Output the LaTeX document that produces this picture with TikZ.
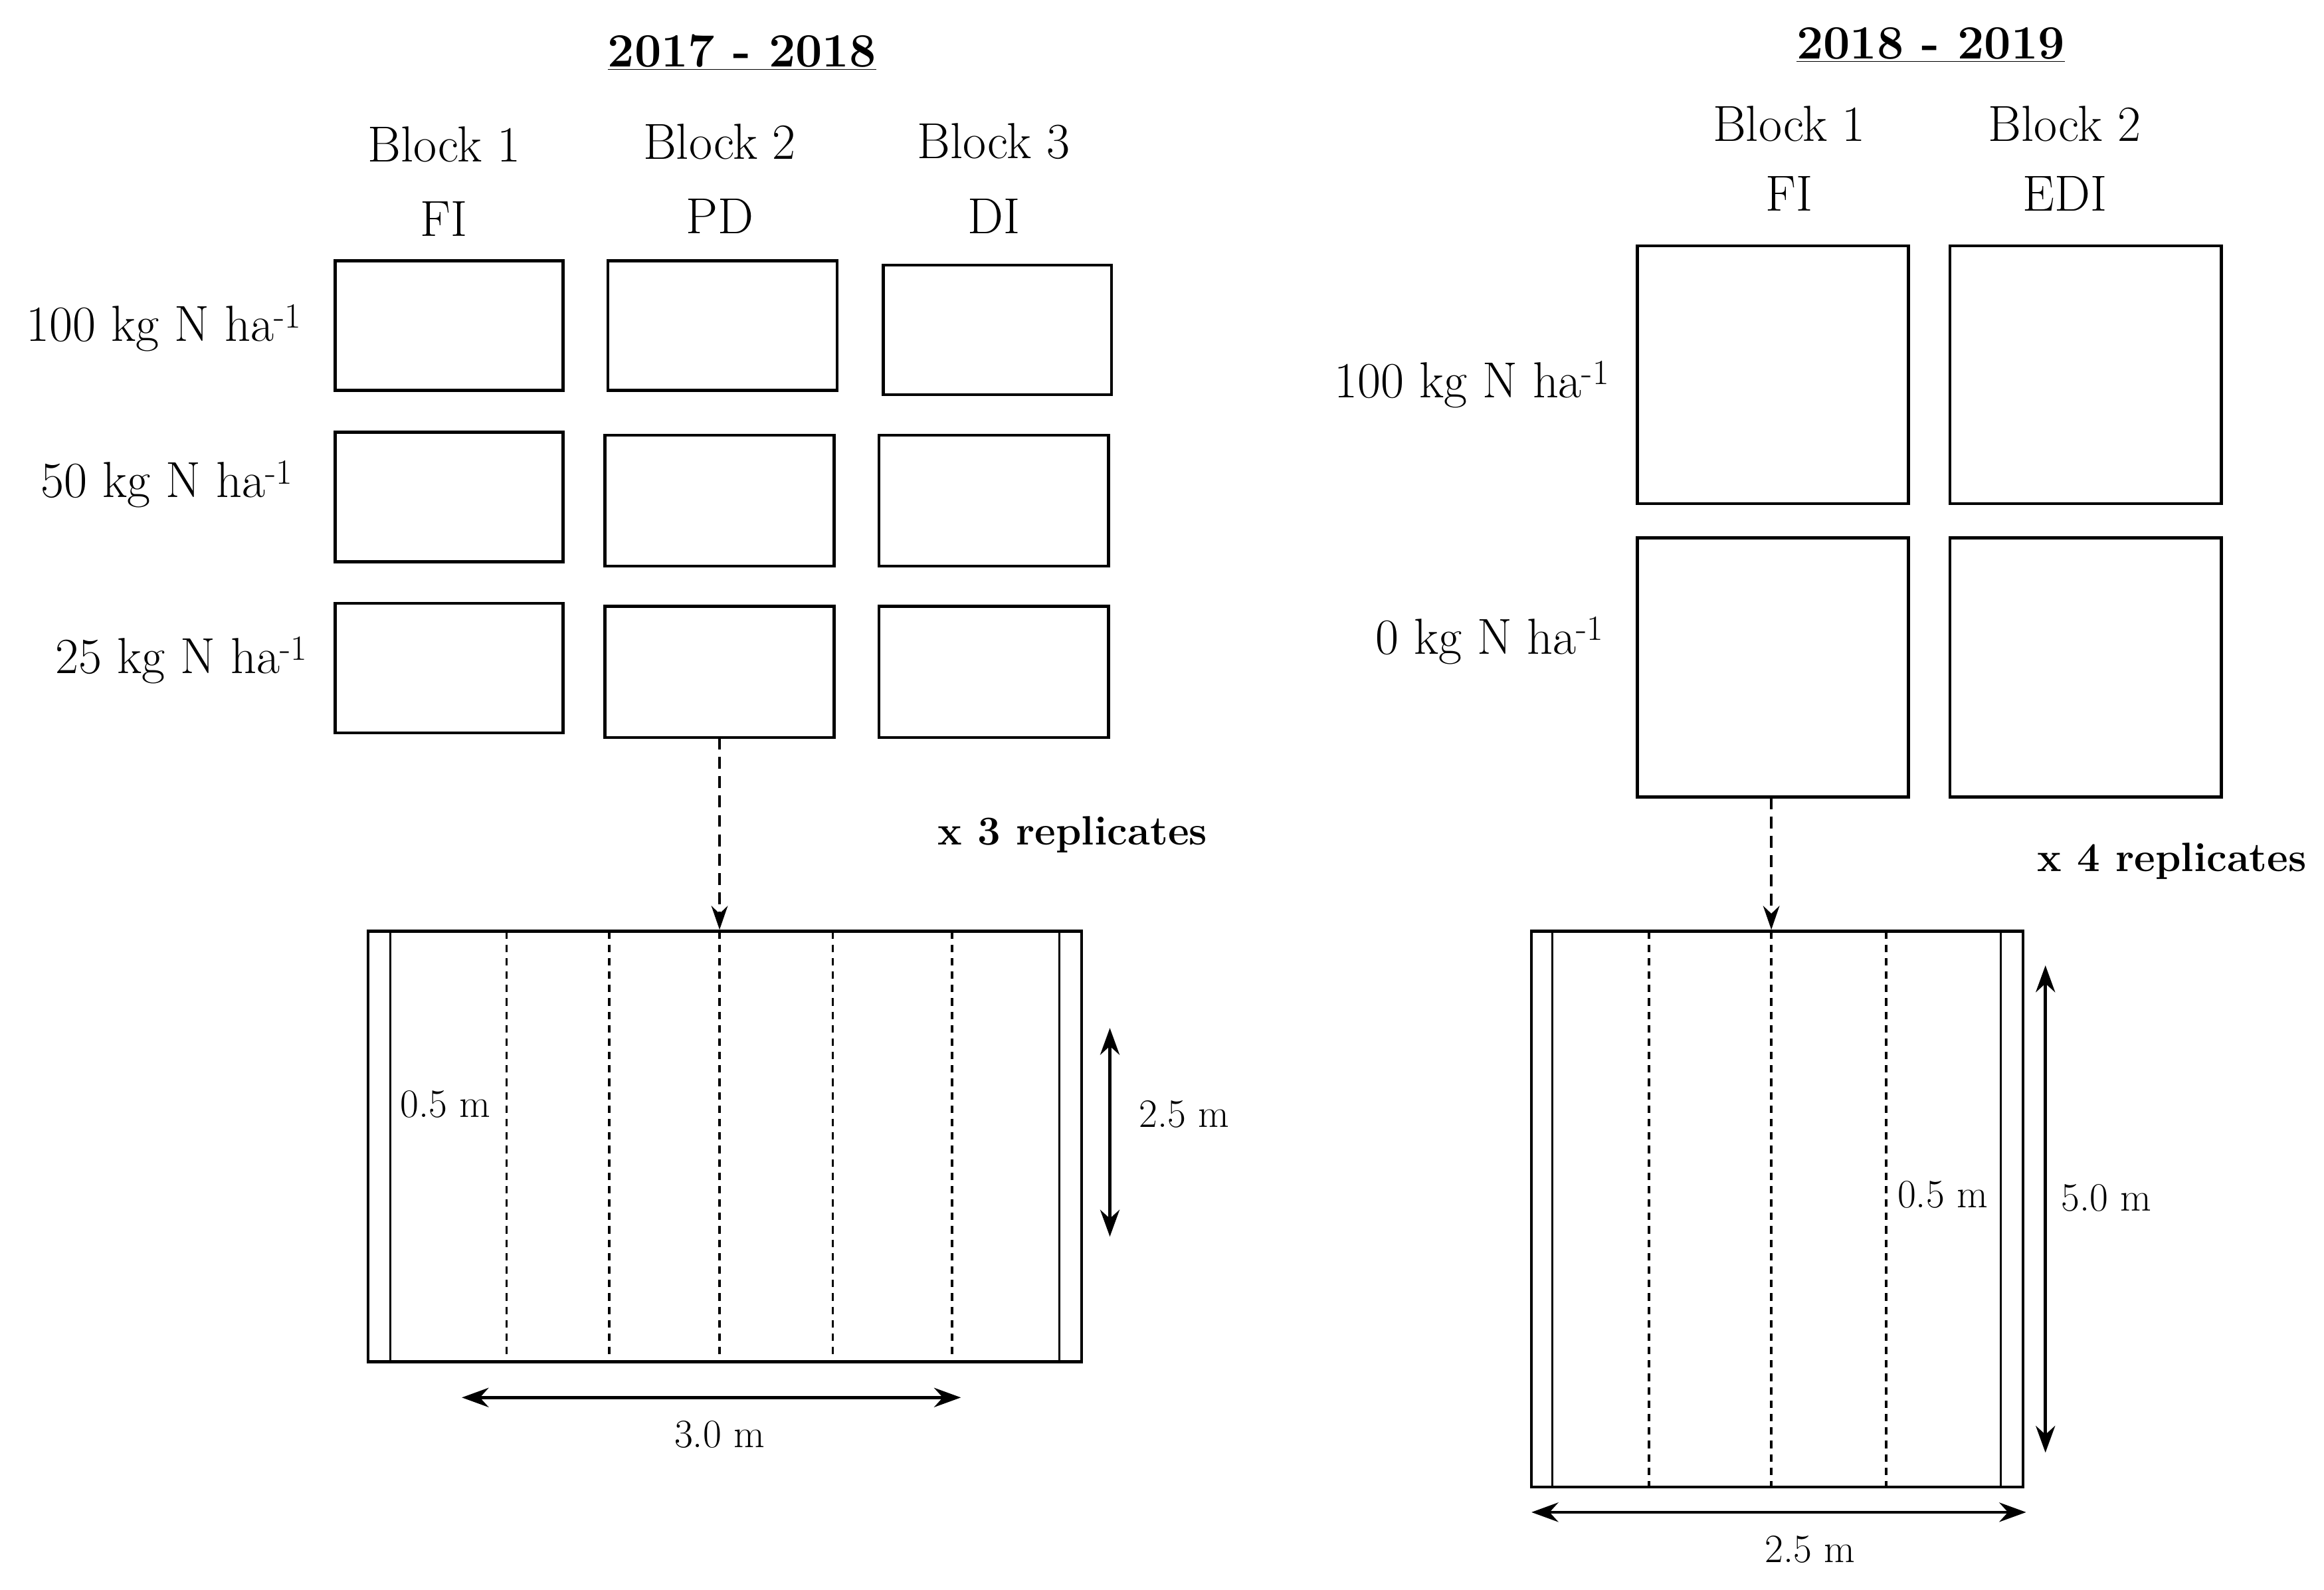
\documentclass[tikz,border=0pt]{standalone}
\usetikzlibrary{arrows.meta}
\begin{document}
\begin{tikzpicture}[x=1pt,y=-1pt,
  box/.style={draw,line width=2pt},
  lbl/.style={font=\fontsize{34}{38}\selectfont},
  sm/.style={font=\fontsize{27}{30}\selectfont},
  ttl/.style={font=\fontsize{32}{36}\selectfont\bfseries},
  rep/.style={font=\fontsize{27.5}{30}\selectfont\bfseries},
  dsh/.style={line width=1.6pt,dash pattern=on 5pt off 4pt},
  arr/.style={line width=2pt,{Stealth[length=18pt,width=13pt]}-{Stealth[length=18pt,width=13pt]}},
  darr/.style={line width=1.6pt,dash pattern=on 8pt off 5pt,-{Stealth[length=16pt,width=11pt]}}]
\useasboundingbox (0,0) rectangle (1560,1067);
% left
\node[ttl] (t1) at (498,35) {\underline{2017 - 2018}};
\node[lbl] at (298,97) {Block 1}; \node[lbl] at (298,147) {FI};
\node[lbl] at (483,95) {Block 2}; \node[lbl] at (483,145) {PD};
\node[lbl] at (667,95) {Block 3}; \node[lbl] at (667,145) {DI};
\node[lbl] at (110,220) {100 kg N ha\textsuperscript{-1}};
\node[lbl] at (112,325) {50 kg N ha\textsuperscript{-1}};
\node[lbl] at (122,443) {25 kg N ha\textsuperscript{-1}};
\draw[box] (225,175) rectangle (378,262);
\draw[box] (408,175) rectangle (562,262);
\draw[box] (593,178) rectangle (746,265);
\draw[box] (225,290) rectangle (378,377);
\draw[box] (406,292) rectangle (560,380);
\draw[box] (590,292) rectangle (744,380);
\draw[box] (225,405) rectangle (378,492);
\draw[box] (406,407) rectangle (560,495);
\draw[box] (590,407) rectangle (744,495);
\coordinate (a1) at (483,495); \coordinate (a2) at (483,624);
\draw[darr] (a1) -- (a2);
\node[rep] at (720,560) {x 3 replicates};
\draw[box] (247,625) rectangle (726,914);
\draw[line width=1.6pt] (262,625) -- (262,914) (711,625) -- (711,914);
\foreach \x in {340,409,483,559,639} \draw[dsh] (\x,625) -- (\x,914);
\node[sm,fill=white,inner sep=1pt] at (299,741) {0.5 m};
\draw[arr] (745,690) -- (745,830);
\node[sm] at (795,748) {2.5 m};
\draw[arr] (310,938) -- (645,938);
\node[sm] at (483,963) {3.0 m};
% right
\node[ttl] (t2) at (1296,30) {\underline{2018 - 2019}};
\node[lbl] at (1201,83) {Block 1}; \node[lbl] at (1201,130) {FI};
\node[lbl] at (1386,83) {Block 2}; \node[lbl] at (1386,130) {EDI};
\node[lbl] at (988,258) {100 kg N ha\textsuperscript{-1}};
\node[lbl] at (1000,430) {0 kg N ha\textsuperscript{-1}};
\draw[box] (1099,165) rectangle (1281,338);
\draw[box] (1309,165) rectangle (1491,338);
\draw[box] (1099,361) rectangle (1281,535);
\draw[box] (1309,361) rectangle (1491,535);
\coordinate (b1) at (1189,535); \coordinate (b2) at (1189,624);
\draw[darr] (b1) -- (b2);
\node[rep] at (1458,578) {x 4 replicates};
\draw[box] (1028,625) rectangle (1358,998);
\draw[line width=1.6pt] (1042,625) -- (1042,998) (1343,625) -- (1343,998);
\foreach \x in {1107,1189,1266} \draw[dsh] (\x,625) -- (\x,998);
\node[sm,fill=white,inner sep=1pt] at (1304,802) {0.5 m};
\draw[arr] (1373,648) -- (1373,975);
\node[sm] at (1414,804) {5.0 m};
\draw[arr] (1028,1015) -- (1360,1015);
\node[sm] at (1215,1040) {2.5 m};
\end{tikzpicture}
\end{document}
